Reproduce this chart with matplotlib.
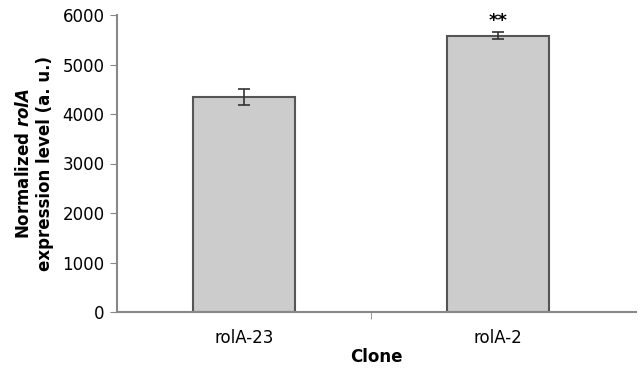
import matplotlib
matplotlib.use("Agg")
import matplotlib.pyplot as plt

categories = ["rolA-23", "rolA-2"]
values = [4350, 5580]
errors = [165, 70]
signif = ["", "**"]

plt.rcParams['font.family'] = ['DejaVu Sans']
plt.rcParams['mathtext.fontset'] = 'custom'
plt.rcParams['mathtext.it'] = 'DejaVu Sans:italic:bold'
plt.rcParams['mathtext.rm'] = 'DejaVu Sans:bold'

fig = plt.figure(figsize=(6.38, 3.73), dpi=100)
ax = fig.add_axes([117/638, 1-312/373, (636-117)/638, (312-15)/373])

x = list(range(len(categories)))
ax.bar(x, values, width=0.4, color="#cccccc", edgecolor="#555555", linewidth=1.5, zorder=2)
ax.errorbar(x, values, yerr=errors, fmt="none", ecolor="#333333", elinewidth=1.2, capsize=4, capthick=1.2, zorder=3)
for xi, v, e, s in zip(x, values, errors, signif):
    if s:
        ax.text(xi, v + e + 40, s, ha="center", va="bottom", fontsize=13, fontweight="bold")

ax.set_xlim(-0.5, 1.5 + 11/253)
ax.set_ylim(0, 6000)
ax.set_yticks(range(0, 6001, 1000))
ax.set_xticks(x)
ax.set_xticklabels(categories)
ax.set_xticks([0.5], minor=True)
ax.tick_params(axis="x", which="major", length=0, pad=12, labelsize=12)
ax.tick_params(axis="x", which="minor", length=5, color="#888888", direction="out")
ax.tick_params(axis="y", length=5, color="#888888", direction="out", labelsize=12, pad=4)

for s in ["top", "right"]:
    ax.spines[s].set_visible(False)
for s in ["left", "bottom"]:
    ax.spines[s].set_color("#888888")
    ax.spines[s].set_linewidth(1.5)

ax.set_ylabel("Normalized $rolA$\nexpression level (a. u.)", fontsize=12, fontweight="bold", labelpad=6, linespacing=1.2)
ax.set_xlabel("Clone", fontsize=12, fontweight="bold", labelpad=1)

fig.savefig("out.png", dpi=100)
